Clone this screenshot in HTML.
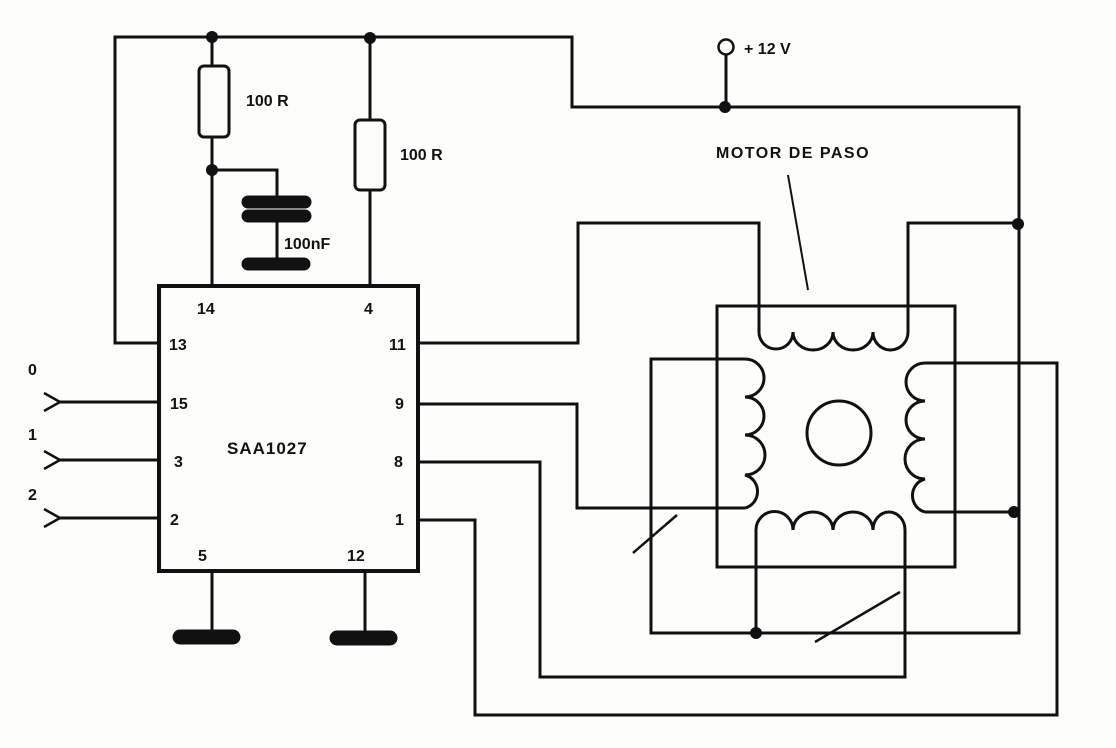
<!DOCTYPE html>
<html><head><style>
html,body{margin:0;padding:0;background:#fff;}
svg{display:block}
text{font-family:"Liberation Sans",sans-serif;fill:#111;font-weight:bold}
</style></head><body>
<svg width="1116" height="748" viewBox="0 0 1116 748" xmlns="http://www.w3.org/2000/svg">
<rect width="1116" height="748" fill="#fdfdfb"/>
<g fill="none" stroke="#111" stroke-width="3" stroke-linejoin="miter">
<!-- top rail -->
<path d="M160,343 H115 V37 H572 V107 H1019 V633 H651 V359 H745"/>
<!-- +12V -->
<circle cx="726" cy="47" r="7.5" stroke-width="2.5"/>
<path d="M726,55 V107"/>
<!-- resistors -->
<path d="M212,37 V66 M212,137 V285 M370,37 V120 M370,190 V285"/>
<rect x="199" y="66" width="30" height="71" rx="5"/>
<rect x="355" y="120" width="30" height="70" rx="5"/>
<path d="M212,170 H277 V205 M277,215 V262"/>
<!-- IC -->
<rect x="159" y="286" width="259" height="285" stroke-width="4"/>
<path d="M212,571 V633 M365,571 V633"/>
<!-- inputs -->
<path d="M60,402 H159 M60,460 H159 M60,518 H159"/>
<path d="M44,393 L60,402 L44,411 M44,451 L60,460 L44,469 M44,509 L60,518 L44,527" stroke-width="2.5"/>
<!-- pin11 -->
<path d="M418,343 H578 V223 H759 V306"/>
<path d="M908,306 V223 H1019"/>
<!-- pin9 -->
<path d="M418,404 H577 V508 H745"/>
<!-- pin8 -->
<path d="M418,462 H540 V677 H905 V530"/>
<!-- pin1 -->
<path d="M418,520 H475 V715 H1057 V363 H925"/>
<!-- right coil bottom lead -->
<path d="M925,512 H1019"/>
<!-- bottom coil left lead -->
<path d="M756,633 V530"/>
<!-- motor frame -->
<rect x="717" y="306" width="238" height="261"/>
<!-- coils -->
<path d="M759,306 V332 A17,17 0 0 0 793,332 A20,18 0 0 0 833,332 A20,18 0 0 0 873,332 A17.5,18 0 0 0 908,332 V306"/>
<path d="M745,359 A19,19 0 0 1 745,397 A19,19 0 0 1 745,435 A20,20 0 0 1 745,475 A16.5,17 0 0 1 745,508"/>
<path d="M925,363 A19,19 0 0 0 925,401 A19,19 0 0 0 925,439 A20,20 0 0 0 925,479 A16.5,17 0 0 0 925,512"/>
<path d="M756,530 A18,18 0 0 1 793,530 A20,18 0 0 1 833,530 A20,18 0 0 1 873,530 A16,18 0 0 1 905,530"/>
<circle cx="839" cy="433" r="32"/>
<!-- slashes and pointer -->
<path d="M633,553 L677,515 M815,642 L900,592" stroke-width="2.5"/>
<path d="M788,175 L808,290" stroke-width="2"/>
</g>
<!-- capacitor plates and ground -->
<g stroke="#111" stroke-linecap="round" fill="none">
<path d="M248,202 H305 M248,216 H305 M248,264 H304" stroke-width="13"/>
<path d="M180,637 H233 M337,638 H390" stroke-width="15"/>
</g>
<!-- dots -->
<g fill="#111">
<circle cx="212" cy="37" r="6"/><circle cx="370" cy="38" r="6"/>
<circle cx="212" cy="170" r="6"/><circle cx="725" cy="107" r="6"/>
<circle cx="1018" cy="224" r="6"/><circle cx="1014" cy="512" r="6"/>
<circle cx="756" cy="633" r="6"/>
</g>
<!-- labels -->
<g font-size="16">
<text x="246" y="106">100 R</text>
<text x="400" y="160">100 R</text>
<text x="284" y="249">100nF</text>
<text x="744" y="54">+ 12 V</text>
<text x="716" y="158" letter-spacing="1.5">MOTOR  DE  PASO</text>
<text x="197" y="314">14</text>
<text x="364" y="314">4</text>
<text x="169" y="350">13</text>
<text x="389" y="350">11</text>
<text x="170" y="409">15</text>
<text x="395" y="409">9</text>
<text x="174" y="467">3</text>
<text x="394" y="467">8</text>
<text x="170" y="525">2</text>
<text x="395" y="525">1</text>
<text x="198" y="561">5</text>
<text x="347" y="561">12</text>
<text x="227" y="454" font-size="17" letter-spacing="1">SAA1027</text>
<text x="28" y="375">0</text>
<text x="28" y="440">1</text>
<text x="28" y="500">2</text>
</g>
</svg>
</body></html>
